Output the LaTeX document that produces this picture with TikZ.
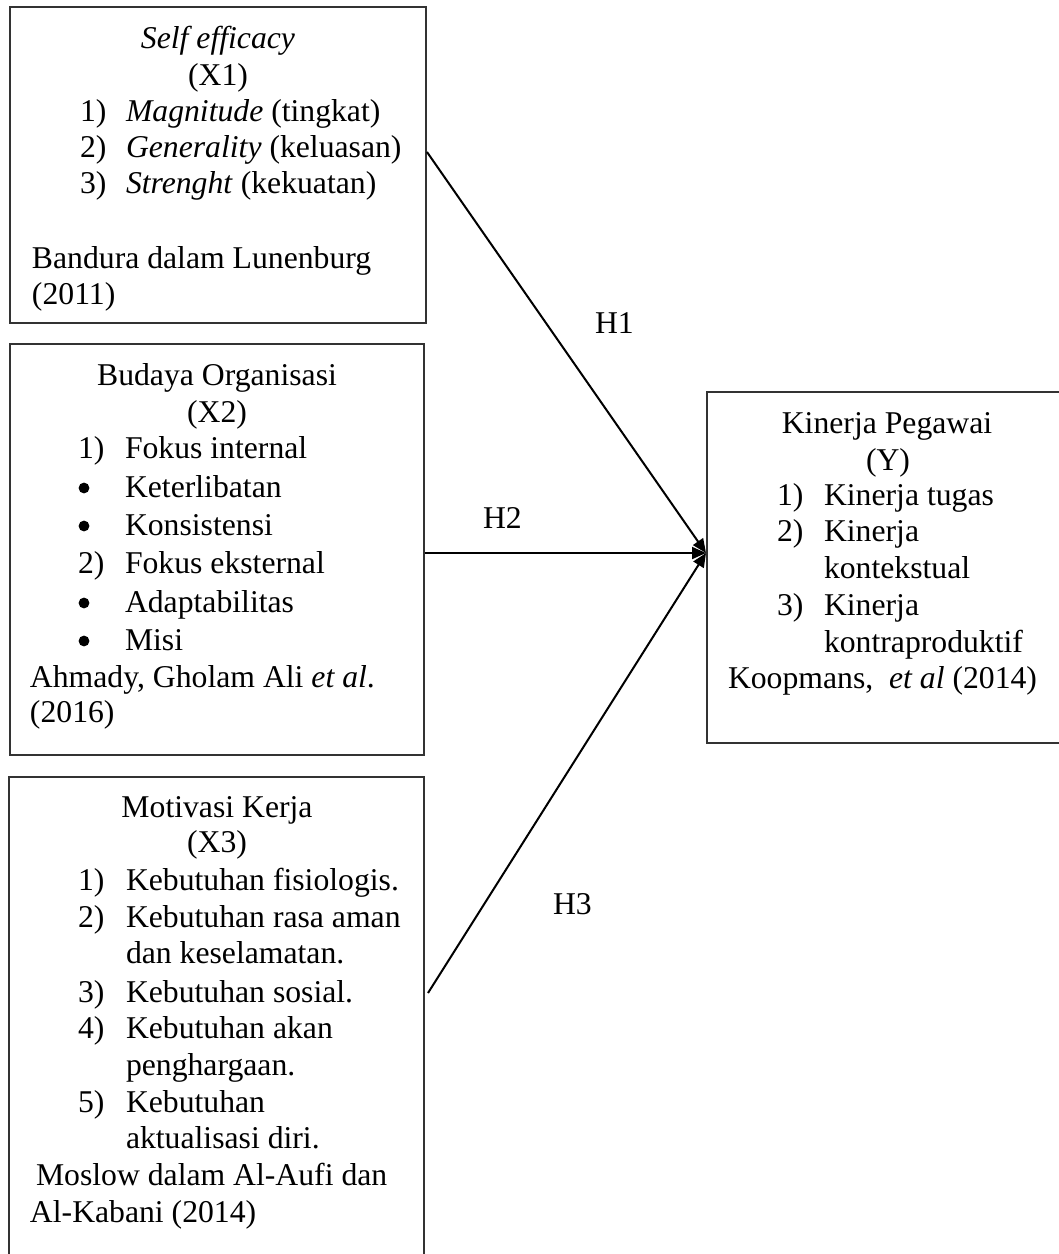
\documentclass[tikz,border=0pt]{standalone}
\usepackage{fontspec}
\setmainfont{Liberation Serif}
\usetikzlibrary{arrows.meta,calc}
\begin{document}
\begin{tikzpicture}[x=0.5pt,y=-0.5pt,
  box/.style={draw=black!80,line width=0.65pt,inner sep=0pt,outer sep=0pt,anchor=north west},
  tx/.style={inner sep=0pt,outer sep=0pt,anchor=base west,font=\fontsize{15.85}{18}\selectfont},
  tc/.style={inner sep=0pt,outer sep=0pt,anchor=base,font=\fontsize{15.85}{18}\selectfont},
  bul/.style={circle,fill=black,inner sep=0pt,outer sep=0pt,minimum size=5.4pt},
  arr/.style={line width=1pt,-{Triangle[length=7pt,width=6pt]}}]
\useasboundingbox (0,0) rectangle (1059,1254);
% boxes
\node[box,minimum width=208pt,minimum height=158pt] (X1) at (10,7) {};
\node[box,minimum width=207pt,minimum height=205.5pt] (X2) at (10,344) {};
\node[box,minimum width=207.5pt,minimum height=250pt] (X3) at (9,777) {};
\node[box,minimum width=180pt,minimum height=175.5pt] (Y) at (707,392) {};
% box 1
\node[tc] (a1) at (218,48) {\textit{Self efficacy}};
\node[tc] (a2) at (218,85) {(X1)};
\node[tx] (a3) at (80,121) {1)};
\node[tx] (a4) at (126,121) {\textit{Magnitude} (tingkat)};
\node[tx] (a5) at (80,157) {2)};
\node[tx] (a6) at (126,157) {\textit{Generality} (keluasan)};
\node[tx] (a7) at (80,193) {3)};
\node[tx] (a8) at (126,193) {\textit{Strenght} (kekuatan)};
\node[tx] (a9) at (32,268) {Bandura dalam Lunenburg};
\node[tx] (a10) at (32,304) {(2011)};
% box 2
\node[tc] (b1) at (217,385) {Budaya Organisasi};
\node[tc] (b2) at (217,422) {(X2)};
\node[tx] (b3) at (78,458) {1)};
\node[tx] (b4) at (125,458) {Fokus internal};
\node[bul] (b5) at (84,488) {};
\node[tx] (b6) at (125,497) {Keterlibatan};
\node[bul] (b7) at (84,526) {};
\node[tx] (b8) at (125,535) {Konsistensi};
\node[tx] (b9) at (78,573) {2)};
\node[tx] (b10) at (125,573) {Fokus eksternal};
\node[bul] (b11) at (84,603) {};
\node[tx] (b12) at (125,612) {Adaptabilitas};
\node[bul] (b13) at (84,641) {};
\node[tx] (b14) at (125,650) {Misi};
\node[tx] (b15) at (30,687) {Ahmady, Gholam Ali \textit{et al}.};
\node[tx] (b16) at (30,722) {(2016)};
% box 3
\node[tc] (c1) at (217,817) {Motivasi Kerja};
\node[tc] (c2) at (217,852) {(X3)};
\node[tx] (c3) at (78,890) {1)};
\node[tx] (c4) at (126,890) {Kebutuhan fisiologis.};
\node[tx] (c5) at (78,927) {2)};
\node[tx] (c6) at (126,927) {Kebutuhan rasa aman};
\node[tx] (c7) at (126,963) {dan keselamatan.};
\node[tx] (c8) at (78,1002) {3)};
\node[tx] (c9) at (126,1002) {Kebutuhan sosial.};
\node[tx] (c10) at (78,1038) {4)};
\node[tx] (c11) at (126,1038) {Kebutuhan akan};
\node[tx] (c12) at (126,1075) {penghargaan.};
\node[tx] (c13) at (78,1112) {5)};
\node[tx] (c14) at (126,1112) {Kebutuhan};
\node[tx] (c15) at (126,1148) {aktualisasi diri.};
\node[tx] (c16) at (36,1185) {Moslow dalam Al-Aufi dan};
\node[tx] (c17) at (30,1222) {Al-Kabani (2014)};
% box Y
\node[tc] (d1) at (887,433) {Kinerja Pegawai};
\node[tc] (d2) at (888,470) {(Y)};
\node[tx] (d3) at (777,505) {1)};
\node[tx] (d4) at (824,505) {Kinerja tugas};
\node[tx] (d5) at (777,541) {2)};
\node[tx] (d6) at (824,541) {Kinerja};
\node[tx] (d7) at (824,578) {kontekstual};
\node[tx] (d8) at (777,615) {3)};
\node[tx] (d9) at (824,615) {Kinerja};
\node[tx] (d10) at (824,652) {kontraproduktif};
\node[tx] (d11) at (728,688) {Koopmans,\ \ \textit{et al} (2014)};
% connectors
\draw[arr] ($(X1.north east)+(1,145)$) -- ($(Y.north west)+(-1,161)$);
\draw[arr] ($(X2.east)+(1,3.5)$) -- ($(Y.north west)+(-1,161)$);
\draw[arr] ($(X3.north east)+(4,216)$) -- ($(Y.north west)+(-1,161)$);
% labels
\node[tx] (h1) at (595,333) {H1};
\node[tx] (h2) at (483,528) {H2};
\node[tx] (h3) at (553,914) {H3};
\end{tikzpicture}
\end{document}
